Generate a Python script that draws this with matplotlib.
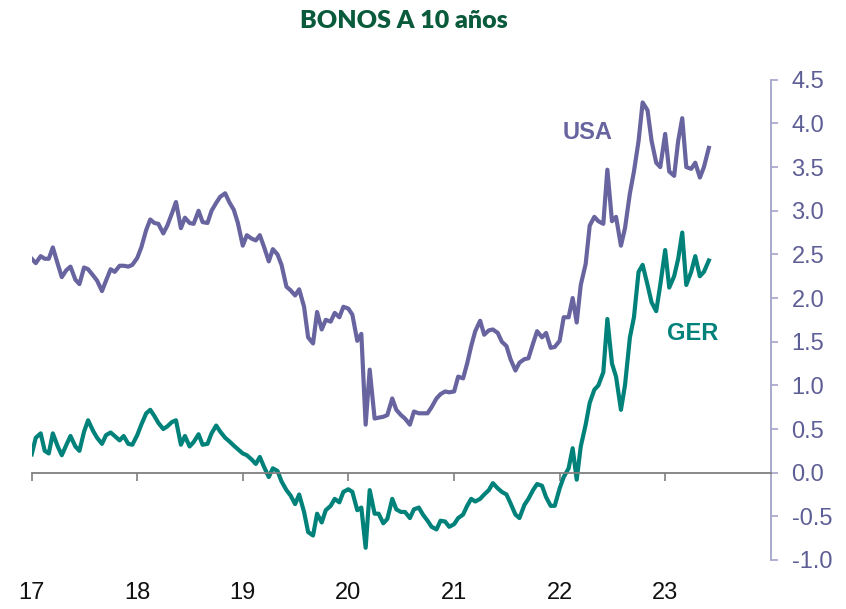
import matplotlib
matplotlib.use("Agg")
import matplotlib.pyplot as plt
import pandas as pd

# semi-monthly observations (1st and 15th), Jan 2017 - Jun 2023
dates = pd.date_range("2017-01-01", "2023-06-01", freq="SMS")

usa = [
    # 2017
    2.45, 2.40, 2.48, 2.45, 2.45, 2.58, 2.39, 2.24, 2.32, 2.36, 2.21, 2.16,
    2.35, 2.33, 2.26, 2.20, 2.08, 2.20, 2.33, 2.30, 2.37, 2.37, 2.36, 2.38,
    # 2018
    2.46, 2.58, 2.78, 2.90, 2.86, 2.85, 2.74, 2.83, 2.97, 3.10, 2.80, 2.92,
    2.86, 2.85, 3.00, 2.87, 2.86, 3.00, 3.09, 3.16, 3.20, 3.10, 3.01, 2.86,
    # 2019
    2.60, 2.72, 2.68, 2.66, 2.72, 2.59, 2.42, 2.56, 2.50, 2.38, 2.13, 2.09,
    2.03, 2.10, 1.90, 1.55, 1.48, 1.84, 1.64, 1.75, 1.73, 1.83, 1.78, 1.90,
    # 2020
    1.88, 1.81, 1.51, 1.59, 0.55, 1.18, 0.62, 0.63, 0.64, 0.66, 0.85, 0.72,
    0.66, 0.62, 0.55, 0.70, 0.68, 0.68, 0.68, 0.75, 0.85, 0.90, 0.93, 0.92,
    # 2021
    0.93, 1.10, 1.08, 1.25, 1.45, 1.62, 1.74, 1.58, 1.63, 1.64, 1.60, 1.50,
    1.45, 1.30, 1.17, 1.26, 1.30, 1.31, 1.48, 1.62, 1.55, 1.60, 1.43, 1.44,
    # 2022
    1.51, 1.78, 1.78, 2.00, 1.72, 2.15, 2.39, 2.83, 2.93, 2.88, 2.85, 3.47,
    2.88, 2.93, 2.60, 2.80, 3.20, 3.45, 3.80, 4.24, 4.15, 3.80, 3.55, 3.50,
    # 2023
    3.88, 3.45, 3.40, 3.80, 4.06, 3.50, 3.48, 3.55, 3.38, 3.50, 3.72,
]

ger = [
    # 2017
    0.21, 0.40, 0.45, 0.25, 0.22, 0.45, 0.30, 0.20, 0.32, 0.42, 0.30, 0.25,
    0.47, 0.60, 0.48, 0.40, 0.33, 0.43, 0.46, 0.42, 0.37, 0.42, 0.33, 0.32,
    # 2018
    0.43, 0.55, 0.68, 0.72, 0.65, 0.57, 0.50, 0.53, 0.58, 0.60, 0.32, 0.42,
    0.30, 0.35, 0.44, 0.32, 0.33, 0.45, 0.54, 0.47, 0.40, 0.36, 0.31, 0.27,
    # 2019
    0.22, 0.20, 0.15, 0.10, 0.18, 0.07, -0.05, 0.05, 0.02, -0.10, -0.20, -0.26,
    -0.36, -0.25, -0.45, -0.68, -0.72, -0.47, -0.57, -0.43, -0.38, -0.30, -0.34, -0.22,
    # 2020
    -0.19, -0.22, -0.43, -0.40, -0.86, -0.20, -0.47, -0.47, -0.58, -0.53, -0.30, -0.42,
    -0.45, -0.45, -0.52, -0.42, -0.40, -0.48, -0.55, -0.62, -0.65, -0.55, -0.56, -0.62,
    # 2021
    -0.59, -0.52, -0.48, -0.38, -0.30, -0.33, -0.30, -0.25, -0.20, -0.12, -0.18, -0.22,
    -0.25, -0.35, -0.48, -0.52, -0.37, -0.30, -0.20, -0.13, -0.15, -0.28, -0.38, -0.38,
    # 2022
    -0.18, -0.05, 0.05, 0.28, -0.08, 0.30, 0.55, 0.80, 0.95, 1.00, 1.15, 1.76,
    1.25, 1.10, 0.72, 1.00, 1.55, 1.78, 2.30, 2.38, 2.15, 1.95, 1.85, 2.15,
    # 2023
    2.55, 2.12, 2.25, 2.45, 2.75, 2.15, 2.30, 2.48, 2.25, 2.30, 2.43,
]

year_ticks = pd.date_range("2017-01-01", "2023-01-01", freq="YS")
year_labels = ["17", "18", "19", "20", "21", "22", "23"]
y_ticks = [-1.0, -0.5, 0.0, 0.5, 1.0, 1.5, 2.0, 2.5, 3.0, 3.5, 4.0, 4.5]

USA_COLOR = "#6864a0"
GER_COLOR = "#00827a"
AXIS_COLOR = "#a3a3c9"
LABEL_COLOR = "#5e5e96"

plt.rcParams["font.family"] = ["Liberation Sans", "DejaVu Sans"]

fig = plt.figure(figsize=(8.46, 6.09), dpi=100)
ax = fig.add_axes([0.0375, 0.0805, 0.8735, 0.7885])

ax.plot(dates, usa, color=USA_COLOR, lw=3.0)
ax.plot(dates, ger, color=GER_COLOR, lw=3.0)

ax.set_xlim(pd.Timestamp("2017-01-01"), pd.Timestamp("2024-01-01"))
ax.set_ylim(-1.0, 4.5)

for side in ["left", "top"]:
    ax.spines[side].set_visible(False)
ax.spines["right"].set_color(AXIS_COLOR)
ax.spines["right"].set_linewidth(1.3)
ax.spines["bottom"].set_position(("data", 0))
ax.spines["bottom"].set_color("#7f7f7f")
ax.spines["bottom"].set_linewidth(1.3)

ax.yaxis.tick_right()
ax.set_yticks(y_ticks)
ax.set_yticklabels([f"{v:.1f}" for v in y_ticks])
ax.tick_params(axis="y", direction="out", length=5, width=1.2, color=AXIS_COLOR,
               labelsize=17, labelcolor=LABEL_COLOR, pad=10)

ax.set_xticks(year_ticks)
ax.set_xticklabels([])
ax.tick_params(axis="x", direction="out", length=6, width=1.2, color="#7f7f7f")
for d, lab in zip(year_ticks, year_labels):
    ax.text(d, -0.068, lab, transform=ax.get_xaxis_transform(), ha="center",
            va="center", fontsize=17, color="#111111")

ax.text(pd.Timestamp("2022-04-07"), 3.90, "USA", color=USA_COLOR, fontsize=17,
        fontweight="bold", ha="center", va="center")
ax.text(pd.Timestamp("2023-04-07"), 1.59, "GER", color=GER_COLOR, fontsize=17,
        fontweight="bold", ha="center", va="center")

fig.text(0.477, 0.965, "BONOS A 10 años", ha="center", va="center",
         fontsize=18, fontweight="heavy", color="#0a5a3c",
         family=["Lato", "DejaVu Sans"])

fig.savefig("out.png", dpi=100)
